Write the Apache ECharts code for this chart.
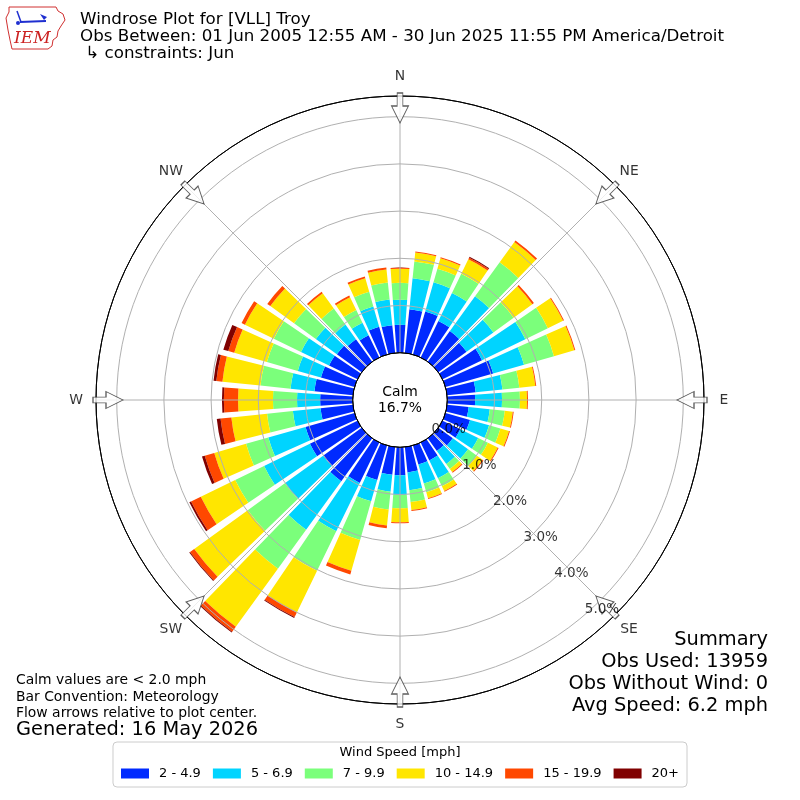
<!DOCTYPE html>
<html>
<head>
<meta charset="utf-8">
<script src="https://cdn.jsdelivr.net/npm/echarts@6/dist/echarts.min.js"></script>
<style>
  html, body { margin: 0; padding: 0; background: #fff; }
  #main { width: 800px; height: 800px; }
</style>
</head>
<body>
<div id="main"></div>
<script>
// direction bins (degrees, meteorological: wind from)
var directions = [0, 10, 20, 30, 40, 50, 60, 70, 80, 90, 100, 110, 120, 130, 140, 150, 160, 170,
                  180, 190, 200, 210, 220, 230, 240, 250, 260, 270, 280, 290, 300, 310, 320, 330, 340, 350];

var binNames = ['2 - 4.9', '5 - 6.9', '7 - 9.9', '10 - 14.9', '15 - 19.9', '20+'];
var binColors = ['#002aff', '#00d4ff', '#7bff7b', '#ffe600', '#ff4800', '#800000'];

// frequency (%) per direction, one array per speed bin
var spd2to5 = [0.59, 0.93, 0.95, 0.86, 0.80, 0.74, 0.93, 1.05, 0.61, 0.59, 0.46, 0.54, 0.42, 0.38, 0.33, 0.42, 0.42, 0.54,
               0.59, 0.59, 0.76, 0.95, 1.12, 1.01, 1.12, 1.08, 0.69, 0.69, 0.82, 0.74, 0.67, 0.65, 0.59, 0.52, 0.61, 0.59];
var spd5to7 = [0.53, 0.66, 0.64, 0.66, 0.91, 0.70, 1.02, 0.68, 0.57, 0.57, 0.45, 0.42, 0.42, 0.40, 0.34, 0.42, 0.42, 0.38,
               0.42, 0.36, 0.47, 1.14, 1.27, 1.00, 1.08, 0.82, 0.59, 0.49, 0.51, 0.51, 0.66, 0.55, 0.38, 0.30, 0.45, 0.55];
var spd7to10 = [0.36, 0.36, 0.30, 0.45, 0.89, 0.53, 0.53, 0.66, 0.36, 0.38, 0.32, 0.25, 0.23, 0.23, 0.13, 0.19, 0.19, 0.25,
                0.28, 0.38, 0.85, 0.93, 1.02, 0.97, 0.68, 0.49, 0.55, 0.51, 0.64, 0.68, 0.64, 0.57, 0.42, 0.30, 0.32, 0.36];
var spd10to15 = [0.30, 0.19, 0.23, 0.34, 0.53, 0.49, 0.36, 0.45, 0.34, 0.15, 0.17, 0.19, 0.23, 0.15, 0.08, 0.11, 0.13, 0.17,
                 0.30, 0.34, 0.68, 0.98, 1.52, 1.40, 0.81, 0.70, 0.76, 0.74, 0.81, 0.72, 0.68, 0.62, 0.40, 0.30, 0.30, 0.28];
var spd15to20 = [0.02, 0.02, 0.02, 0.04, 0.04, 0.04, 0.02, 0.02, 0.02, 0.02, 0.02, 0.02, 0.02, 0.02, 0.02, 0.02, 0.02, 0.02,
                 0.02, 0.06, 0.08, 0.11, 0.13, 0.11, 0.23, 0.21, 0.23, 0.30, 0.13, 0.13, 0.08, 0.08, 0.04, 0.04, 0.04, 0.04];
var spd20plus = [0, 0, 0, 0.02, 0, 0, 0, 0, 0, 0, 0, 0, 0, 0, 0, 0, 0, 0,
                 0, 0, 0, 0.02, 0.02, 0.02, 0.04, 0.06, 0.08, 0.04, 0.06, 0.11, 0, 0, 0, 0, 0, 0];

var ringTicks = [0, 1, 2, 3, 4, 5];
var compassLabels = ['N', 'NE', 'E', 'SE', 'S', 'SW', 'W', 'NW'];
var compassAngles = [0, 45, 90, 135, 180, 225, 270, 315];
var calmPct = 16.7;

var FONT = 'DejaVu Sans';
var R0 = 47.3, R1 = 304, PX_PER_PCT = 47.2;
var rMax = (R1 - R0) / PX_PER_PCT;

var binData = [spd2to5, spd5to7, spd7to10, spd10to15, spd15to20, spd20plus];
var series = [];
for (var i = 0; i < binNames.length; i++) {
    series.push({
        type: 'bar',
        name: binNames[i],
        coordinateSystem: 'polar',
        polarIndex: 0,
        stack: 'rose',
        barCategoryGap: '18%',
        data: binData[i],
        itemStyle: { color: binColors[i] },
        silent: true
    });
}

// flow arrows
series.push({
    type: 'scatter',
    coordinateSystem: 'polar',
    polarIndex: 1,
    clip: false,
    z: 21,
    symbol: 'path://M6,0 L12,0 L12,13 L18,13 L9,30 L0,13 L6,13 Z',
    symbolSize: [17, 30],
    itemStyle: { color: '#ffffff', borderColor: '#333333', borderWidth: 1 },
    data: compassAngles.map(function (a) {
        return { value: [(292 - R0) / PX_PER_PCT, a], symbolRotate: -a };
    }),
    silent: true
});

// ring labels along the SE side (drawn over the arrows)
series.push({
    type: 'scatter',
    coordinateSystem: 'polar',
    polarIndex: 1,
    clip: false,
    z: 25,
    symbolSize: 1,
    itemStyle: { color: 'rgba(0,0,0,0)' },
    data: ringTicks.map(function (v) { return [v, 139.5]; }),
    label: {
        show: true,
        position: 'inside',
        offset: [18, -6],
        fontFamily: FONT,
        fontSize: 13.5,
        color: '#000',
        formatter: function (p) { return p.value[0].toFixed(1) + '%'; }
    },
    silent: true
});

// compass labels
series.push({
    type: 'scatter',
    coordinateSystem: 'polar',
    polarIndex: 1,
    clip: false,
    z: 25,
    symbolSize: 1,
    itemStyle: { color: 'rgba(0,0,0,0)' },
    data: compassAngles.map(function (a) { return [(324 - R0) / PX_PER_PCT, a]; }),
    label: {
        show: true,
        position: 'inside',
        fontFamily: FONT,
        fontSize: 13.9,
        color: '#000',
        formatter: function (p) { return compassLabels[p.dataIndex]; }
    },
    silent: true
});

function txt(x, y, s, size, align) {
    return {
        type: 'text', x: x, y: y, z: 30,
        style: {
            text: s, fill: '#000', fontSize: size, fontFamily: FONT,
            align: align || 'left', textAlign: align || 'left',
            verticalAlign: 'middle', textVerticalAlign: 'middle'
        }
    };
}

var option = {
    animation: false,
    backgroundColor: '#fff',
    textStyle: { fontFamily: FONT },
    title: {
        text: 'Wind Speed [mph]',
        left: 'center',
        top: 746,
        padding: 0,
        textStyle: { fontSize: 13, fontWeight: 'normal', color: '#000', fontFamily: FONT }
    },
    legend: {
        data: binNames,
        left: 'center',
        top: 742,
        icon: 'rect',
        itemWidth: 28,
        itemHeight: 10,
        itemGap: 12,
        padding: [25, 8, 7, 8],
        borderColor: '#cccccc',
        borderWidth: 1,
        borderRadius: 4,
        selectedMode: false,
        textStyle: { fontSize: 13, color: '#000', fontFamily: FONT, padding: [0, 0, 0, 5] }
    },
    polar: [
        { center: [400, 400], radius: [R0, R1] },
        { center: [400, 400], radius: [R0, R1] }
    ],
    angleAxis: [
        { polarIndex: 0, type: 'category', data: directions, startAngle: 95, clockwise: true, boundaryGap: true, show: false },
        {
            polarIndex: 1, type: 'value', min: 0, max: 360, interval: 45, startAngle: 90, clockwise: true, z: 10,
            axisLine: { show: true, lineStyle: { color: '#000', width: 1 } },
            axisTick: { show: false },
            axisLabel: { show: false },
            splitLine: { show: true, lineStyle: { color: '#b0b0b0', width: 1 } }
        }
    ],
    radiusAxis: [
        { polarIndex: 0, type: 'value', min: 0, max: rMax, show: false },
        {
            polarIndex: 1, type: 'value', min: 0, max: rMax, interval: 1, z: 10,
            axisLine: { show: false },
            axisTick: { show: false },
            axisLabel: { show: false },
            splitLine: { show: true, lineStyle: { color: ['#000', '#b0b0b0', '#b0b0b0', '#b0b0b0', '#b0b0b0', '#b0b0b0', '#000'], width: 1 } }
        }
    ],
    series: series,
    graphic: [
        // IEM logo
        {
            type: 'polyline', z: 30,
            shape: { points: [[9, 7], [56, 7], [58, 11], [63, 14], [65, 20], [61, 26], [58, 31], [57, 37], [53, 40], [52, 46], [48, 49], [12, 49], [10, 40], [8, 30], [6, 18], [9, 12], [9, 7]] },
            style: { stroke: '#d03030', fill: null, lineWidth: 1 }
        },
        { type: 'line', z: 30, shape: { x1: 20, y1: 22, x2: 46, y2: 21 }, style: { stroke: '#1f2fd0', lineWidth: 2 } },
        { type: 'line', z: 30, shape: { x1: 17, y1: 11, x2: 21, y2: 22 }, style: { stroke: '#1f2fd0', lineWidth: 1.5 } },
        { type: 'polygon', z: 30, shape: { points: [[40, 14], [47, 17], [44, 20]] }, style: { fill: '#1f2fd0' } },
        { type: 'circle', z: 30, shape: { cx: 18, cy: 23, r: 2 }, style: { fill: '#1f2fd0' } },
        {
            type: 'text', x: 14, y: 39, z: 30,
            style: { text: 'IEM', fill: '#cc2222', fontSize: 17, fontStyle: 'italic', fontFamily: 'DejaVu Serif', verticalAlign: 'middle', textVerticalAlign: 'middle' }
        },
        // header
        txt(80, 20, 'Windrose Plot for [VLL] Troy', 16.7),
        txt(80, 37, 'Obs Between: 01 Jun 2005 12:55 AM - 30 Jun 2025 11:55 PM America/Detroit', 16.7),
        txt(80, 54, ' \u21b3 constraints: Jun', 16.7),
        // calm
        txt(400, 392, 'Calm', 13.9, 'center'),
        txt(400, 408, calmPct.toFixed(1) + '%', 13.9, 'center'),
        // summary
        txt(768, 640, 'Summary', 19.4, 'right'),
        txt(768, 662, 'Obs Used: 13959', 19.4, 'right'),
        txt(768, 684, 'Obs Without Wind: 0', 19.4, 'right'),
        txt(768, 706, 'Avg Speed: 6.2 mph', 19.4, 'right'),
        // notes
        txt(16, 680, 'Calm values are < 2.0 mph', 13.9),
        txt(16, 697, 'Bar Convention: Meteorology', 13.9),
        txt(16, 713, 'Flow arrows relative to plot center.', 13.9),
        txt(16, 730, 'Generated: 16 May 2026', 19.4)
    ]
};

var chart = echarts.init(document.getElementById('main'));
chart.setOption(option);
</script>
</body>
</html>
